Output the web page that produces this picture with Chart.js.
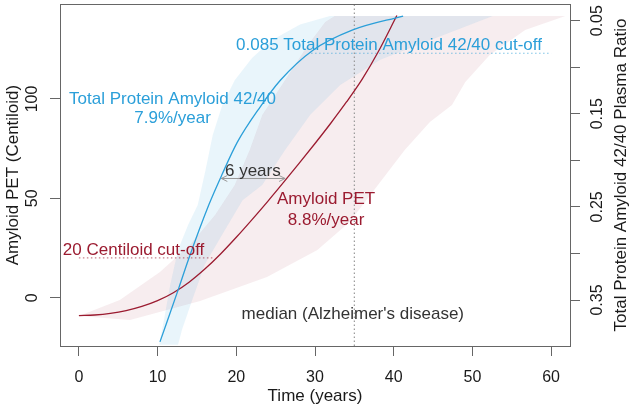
<!DOCTYPE html>
<html>
<head>
<meta charset="utf-8">
<script src="https://cdn.jsdelivr.net/npm/chart.js@4"></script>
<style>
  html, body { margin: 0; padding: 0; background: #fff; }
  #wrap { width: 633px; height: 410px; }
</style>
</head>
<body>
<div id="wrap"><canvas id="chart" width="633" height="410"></canvas></div>
<script>
// axis ticks
const xTicks = [0, 10, 20, 30, 40, 50, 60];
const leftTicks = [0, 50, 100];
const rightTicks = [0.05, 0.15, 0.25, 0.35];

// Amyloid PET median curve (Centiloid)
const petYears = [0, 2, 4, 6, 8, 10, 12, 14, 16, 18, 20, 22, 24, 26, 28, 30, 32, 34, 36, 38, 40.4];
const petValues = [-9, -8.7, -7.9, -6.5, -4.4, -1.5, 2.5, 7.8, 14.4, 22, 30.4, 39.3, 48.5, 58, 67.7, 77.6, 87.8, 98.5, 110, 123.5, 142];

// Total protein amyloid 42/40 plasma ratio median curve
const ratioYears = [10.3, 12.7, 13.9, 16.5, 18.2, 20.1, 23.0, 25.6, 29.7, 34.8, 41.2];
const ratioValues = [0.395, 0.337, 0.307, 0.248, 0.215, 0.181, 0.143, 0.114, 0.082, 0.060, 0.045];

// uncertainty band outlines (closed)
const petBandYears = [0, 5.2, 10.3, 14.1, 17.3, 19.8, 21.7, 23.3, 26.2, 29.1, 31.3, 32.5, 61.8, 56.7, 52.2, 49.1, 47.4, 44.6, 41.4, 38.0, 34.4, 30.3, 23.9, 15.4, 6.5, 0];
const petBandValues = [-9.2, -1.2, 13.0, 26.5, 41.6, 56.7, 74.3, 91.9, 109.5, 127.2, 138.8, 141.8, 141.8, 134.7, 122.1, 108.5, 97.0, 88.4, 74.3, 56.7, 38.1, 24.0, 10.4, -1.7, -11.2, -9.2];
const ratioBandYears = [10.2, 10.8, 11.6, 12.6, 13.9, 15.1, 16.1, 17.0, 18.2, 19.8, 22.0, 24.5, 28.1, 31.9, 52.6, 44.6, 38.3, 33.2, 29.4, 26.2, 23.3, 20.8, 18.2, 16.0, 14.4, 13.1, 12.6, 10.2];
const ratioBandValues = [0.398, 0.372, 0.334, 0.296, 0.269, 0.248, 0.210, 0.173, 0.141, 0.114, 0.090, 0.071, 0.054, 0.045, 0.045, 0.071, 0.092, 0.119, 0.151, 0.189, 0.2265, 0.243, 0.280, 0.312, 0.350, 0.382, 0.398, 0.398];

// cut-offs and markers
const petCutoff = 20;
const petCutoffYears = [0, 17];
const ratioCutoff = 0.085;
const ratioCutoffYears = [29.5, 60];
const medianYear = 35;
const gapLevel = 60;
const gapYears = [18.1, 26.2];

const xRange = [-2.4, 62.4];
const yRange = [-24.3, 147.8];
const y2Range = [0.0321, 0.3994];

const BLUE = '#2b9fd9';
const RED = '#9b1b30';
const FONT = '"Liberation Sans", Arial, Helvetica, sans-serif';

// text placed in Centiloid / year coordinates
const notes = [
  { text: '0.085 Total Protein Amyloid 42/40 cut-off', x: 39.4, y: 127.2, color: BLUE },
  { text: 'Total Protein Amyloid 42/40', x: 11.9, y: 100, color: BLUE },
  { text: '7.9%/year', x: 11.9, y: 90.4, color: BLUE },
  { text: '6 years', x: 22.1, y: 63.4, color: '#333' },
  { text: 'Amyloid PET', x: 31.4, y: 49.7, color: RED },
  { text: '8.8%/year', x: 31.4, y: 39.1, color: RED },
  { text: '20 Centiloid cut-off', x: 6.95, y: 24.0, color: RED },
  { text: "median (Alzheimer's disease)", x: 34.8, y: -8.4, color: '#333' }
];

const toPts = (xs, ys) => xs.map((x, i) => ({ x: x, y: ys[i] }));

function rotText(ctx, text, x, y) {
  ctx.save();
  ctx.translate(x, y);
  ctx.rotate(-Math.PI / 2);
  ctx.fillText(text, 0, 0);
  ctx.restore();
}

const overlay = {
  id: 'overlay',
  afterDatasetsDraw(chart) {
    const ctx = chart.ctx;
    const sx = chart.scales.x, sy = chart.scales.y;

    // "6 years" arrow
    const x1 = sx.getPixelForValue(gapYears[0]);
    const x2 = sx.getPixelForValue(gapYears[1]);
    const ay = sy.getPixelForValue(gapLevel);
    ctx.save();
    ctx.strokeStyle = '#999';
    ctx.lineWidth = 1;
    ctx.beginPath();
    ctx.moveTo(x1, ay); ctx.lineTo(x2, ay);
    ctx.moveTo(x1 + 6, ay - 3); ctx.lineTo(x1, ay); ctx.lineTo(x1 + 6, ay + 3);
    ctx.moveTo(x2 - 6, ay - 3); ctx.lineTo(x2, ay); ctx.lineTo(x2 - 6, ay + 3);
    ctx.stroke();

    ctx.font = '17px ' + FONT;
    ctx.textAlign = 'center';
    ctx.textBaseline = 'middle';
    notes.forEach(n => {
      ctx.fillStyle = n.color;
      ctx.fillText(n.text, sx.getPixelForValue(n.x), sy.getPixelForValue(n.y));
    });
    ctx.restore();
  },
  afterDraw(chart) {
    const ctx = chart.ctx;
    const a = chart.chartArea;
    const sx = chart.scales.x, sy = chart.scales.y, sy2 = chart.scales.y2;
    ctx.save();
    ctx.strokeStyle = '#666';
    ctx.lineWidth = 1;
    ctx.strokeRect(Math.round(a.left) + 0.5, Math.round(a.top) + 0.5, Math.round(a.right - a.left), Math.round(a.bottom - a.top));

    ctx.fillStyle = '#1a1a1a';
    ctx.textAlign = 'center';
    ctx.textBaseline = 'middle';
    ctx.font = '16px ' + FONT;
    xTicks.forEach(v => ctx.fillText(String(v), sx.getPixelForValue(v), a.bottom + 31.7));
    leftTicks.forEach(v => rotText(ctx, String(v), a.left - 27, sy.getPixelForValue(v)));
    rightTicks.forEach(v => rotText(ctx, v.toFixed(2), a.right + 28, sy2.getPixelForValue(v)));

    ctx.font = '17px ' + FONT;
    const midY = (a.top + a.bottom) / 2;
    ctx.fillText('Time (years)', (a.left + a.right) / 2, a.bottom + 50.7);
    rotText(ctx, 'Amyloid PET (Centiloid)', a.left - 47, midY);
    rotText(ctx, 'Total Protein Amyloid 42/40 Plasma Ratio', a.right + 51.7, midY);
    ctx.restore();
  }
};

const tickGrid = { drawOnChartArea: false, drawTicks: true, tickLength: 10, color: '#666', lineWidth: 1 };

new Chart(document.getElementById('chart').getContext('2d'), {
  type: 'line',
  data: {
    datasets: [
      {
        label: 'Total Protein Amyloid 42/40',
        data: toPts(ratioYears, ratioValues),
        yAxisID: 'y2',
        borderColor: BLUE, borderWidth: 1.3,
        pointRadius: 0, cubicInterpolationMode: 'monotone', fill: false, order: 1
      },
      {
        label: 'Amyloid PET',
        data: toPts(petYears, petValues),
        yAxisID: 'y',
        borderColor: RED, borderWidth: 1.3,
        pointRadius: 0, cubicInterpolationMode: 'monotone', fill: false, order: 1
      },
      {
        label: 'Centiloid cut-off',
        data: petCutoffYears.map(x => ({ x: x, y: petCutoff })),
        yAxisID: 'y',
        borderColor: 'rgba(155,27,48,0.55)', borderWidth: 1.2, borderDash: [1.5, 2.5],
        pointRadius: 0, fill: false, order: 2
      },
      {
        label: 'ratio cut-off',
        data: ratioCutoffYears.map(x => ({ x: x, y: ratioCutoff })),
        yAxisID: 'y2',
        borderColor: 'rgba(43,159,217,0.6)', borderWidth: 1.2, borderDash: [1.5, 2.5],
        pointRadius: 0, fill: false, order: 2
      },
      {
        label: 'median',
        data: yRange.map(v => ({ x: medianYear, y: v })),
        yAxisID: 'y',
        borderColor: '#999', borderWidth: 1.2, borderDash: [1.5, 2.5],
        pointRadius: 0, fill: false, order: 2
      },
      {
        label: 'ratio band',
        data: toPts(ratioBandYears, ratioBandValues),
        yAxisID: 'y2',
        borderColor: 'rgba(0,0,0,0)', borderWidth: 0,
        backgroundColor: 'rgba(43,159,217,0.10)',
        pointRadius: 0, fill: 'shape', order: 3
      },
      {
        label: 'PET band',
        data: toPts(petBandYears, petBandValues),
        yAxisID: 'y',
        borderColor: 'rgba(0,0,0,0)', borderWidth: 0,
        backgroundColor: 'rgba(155,27,48,0.08)',
        pointRadius: 0, fill: 'shape', order: 3
      }
    ]
  },
  options: {
    responsive: false,
    animation: false,
    devicePixelRatio: 1,
    layout: { padding: { top: 4, left: 0, right: 0, bottom: 0 } },
    plugins: { legend: { display: false }, tooltip: { enabled: false } },
    scales: {
      x: {
        type: 'linear', min: xRange[0], max: xRange[1],
        ticks: { display: false, stepSize: 10, includeBounds: false },
        grid: tickGrid, border: { display: false },
        afterFit: s => { s.height = 64; }
      },
      y: {
        type: 'linear', position: 'left', min: yRange[0], max: yRange[1],
        ticks: { display: false, stepSize: 50, includeBounds: false },
        grid: tickGrid, border: { display: false },
        afterFit: s => { s.width = 60; }
      },
      y2: {
        type: 'linear', position: 'right', reverse: true, min: y2Range[0], max: y2Range[1],
        ticks: { display: false, stepSize: 0.05, includeBounds: false },
        grid: tickGrid, border: { display: false },
        afterFit: s => { s.width = 63; }
      }
    }
  },
  plugins: [overlay]
});
</script>
</body>
</html>
